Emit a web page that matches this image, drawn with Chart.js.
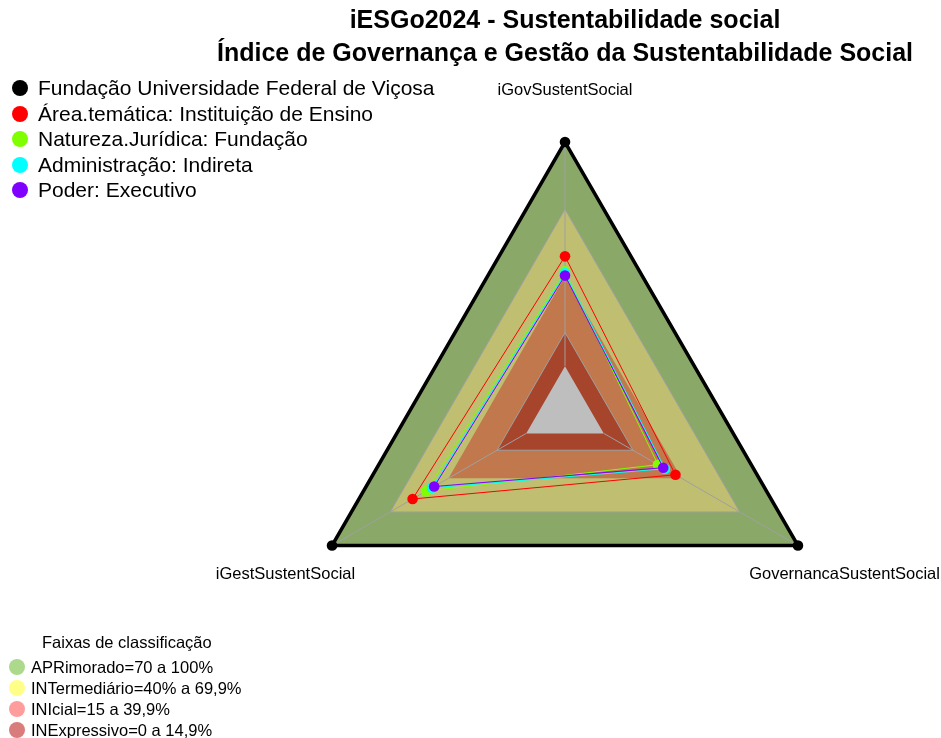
<!DOCTYPE html>
<html>
<head>
<meta charset="utf-8">
<script src="https://cdn.jsdelivr.net/npm/chart.js@4.4.1/dist/chart.umd.min.js"></script>
<style>
  html, body { margin:0; padding:0; background:#fff; }
  body { width:941px; height:738px; position:relative; overflow:hidden; font-family:"Liberation Sans", Arial, sans-serif; }
  #wrap { position:absolute; left:0; top:0; width:941px; height:738px; }
  .title { position:absolute; left:165px; width:800px; text-align:center; font-weight:bold; font-size:25px; color:#000; white-space:nowrap; line-height:28px; }
  .leg { position:absolute; left:12px; font-size:21px; color:#000; white-space:nowrap; line-height:24px; }
  .leg span.dot { display:inline-block; width:16px; height:16px; border-radius:50%; margin-right:10px; vertical-align:-1px; }
  .leg2 { position:absolute; left:9px; font-size:16.5px; color:#000; white-space:nowrap; line-height:19px; }
  .leg2 span.dot { display:inline-block; width:16px; height:16px; border-radius:50%; margin-right:6px; vertical-align:-2px; }
  .frag { position:absolute; left:2px; top:-21px; font-size:22px; color:#aab6de; }
</style>
</head>
<body>
<div class="frag">Social</div>
<div id="wrap"><canvas id="c" width="941" height="738"></canvas></div>
<div class="title" style="top:5px;">iESGo2024 - Sustentabilidade social</div>
<div class="title" style="top:38px;">Índice de Governança e Gestão da Sustentabilidade Social</div>
<div id="legTop"></div>
<div class="leg2" style="left:42px; top:633px;">Faixas de classificação</div>
<div id="legBot"></div>
<script>
// ---- data ----
const axisLabels = ['iGovSustentSocial', 'GovernancaSustentSocial', 'iGestSustentSocial'];
const seriesNames = ['Fundação Universidade Federal de Viçosa', 'Área.temática: Instituição de Ensino', 'Natureza.Jurídica: Fundação', 'Administração: Indireta', 'Poder: Executivo'];
const ufv       = [100, 100, 100];
const areaTem   = [49.0, 36.9, 58.5];
const natureza  = [42.3, 27.9, 51.5];
const adminInd  = [41.5, 31.5, 48.5];
const poderExec = [40.4, 30.6, 47.4];
const bandNames = ['APRimorado=70 a 100%', 'INTermediário=40% a 69,9%', 'INIcial=15 a 39,9%', 'INExpressivo=0 a 14,9%'];
const bandLimits = [100, 70, 40, 15, 0];

const seriesColors = ['#000000', '#ff0000', '#80ff00', '#00ffff', '#8000ff'];
const bandFill = ['#8aa868', '#c0be70', '#c0784c', '#a6442c', '#bebebe'];
const bandBorder = [0, 1, 0, 1, 0];
const bandLegColors = ['#acd98c', '#ffff88', '#ff9c9c', '#d97c7c'];

// legends (HTML text)
const lt = document.getElementById('legTop');
seriesNames.forEach((n, i) => {
  const d = document.createElement('div');
  d.className = 'leg';
  d.style.top = (76 + i * 25.5) + 'px';
  d.innerHTML = '<span class="dot" style="background:' + seriesColors[i] + '"></span>' + n;
  lt.appendChild(d);
});
const lb = document.getElementById('legBot');
bandNames.forEach((n, i) => {
  const d = document.createElement('div');
  d.className = 'leg2';
  d.style.top = (658 + i * 21.1) + 'px';
  d.innerHTML = '<span class="dot" style="background:' + bandLegColors[i] + '"></span>' + n;
  lb.appendChild(d);
});

const seriesData = [ufv, areaTem, natureza, adminInd, poderExec];
const datasets = [];
// bands
bandLimits.forEach((v, i) => {
  datasets.push({
    label: 'band' + i,
    data: axisLabels.map(() => v),
    fill: 'start',
    backgroundColor: bandFill[i],
    borderColor: '#a0a0a0',
    borderWidth: bandBorder[i],
    pointRadius: 0,
    pointHoverRadius: 0,
    order: 20 - i,
    clip: false,
    isBand: true,
    isHole: i === bandLimits.length - 1
  });
});
seriesData.forEach((arr, i) => {
  datasets.push({
    label: seriesNames[i],
    data: arr,
    fill: false,
    borderColor: seriesColors[i],
    backgroundColor: seriesColors[i],
    borderWidth: i === 0 ? 3.5 : 1,
    pointRadius: 5.3,
    pointBorderWidth: 0,
    pointBackgroundColor: seriesColors[i],
    order: 5 - i,
    clip: false
  });
});

const angleLinesPlugin = {
  id: 'angleLinesAfterHole',
  afterDatasetDraw(chart, args) {
    const ds = chart.data.datasets[args.index];
    if (!ds.isHole) return;
    const s = chart.scales.r;
    const ctx = chart.ctx;
    ctx.save();
    ctx.strokeStyle = '#a0a0a0';
    ctx.lineWidth = 1;
    for (let i = 0; i < axisLabels.length; i++) {
      const c = s.getPointPositionForValue(i, 0);
      const p = s.getPointPositionForValue(i, s.max);
      ctx.beginPath();
      ctx.moveTo(c.x, c.y);
      ctx.lineTo(p.x, p.y);
      ctx.stroke();
    }
    ctx.restore();
  }
};
const axisLabelPlugin = {
  id: 'axisLabels',
  afterDraw(chart) {
    const s = chart.scales.r;
    const ctx = chart.ctx;
    ctx.save();
    ctx.fillStyle = '#000';
    ctx.font = '16.5px "Liberation Sans", Arial, sans-serif';
    ctx.textAlign = 'center';
    ctx.textBaseline = 'middle';
    const labelValue = s.max + 0.2 * (s.max - s.min);
    for (let i = 0; i < axisLabels.length; i++) {
      const p = s.getPointPositionForValue(i, labelValue);
      ctx.fillText(axisLabels[i], p.x, p.y + 2);
    }
    ctx.restore();
  }
};

new Chart(document.getElementById('c'), {
  type: 'radar',
  data: { labels: axisLabels, datasets },
  options: {
    responsive: false,
    animation: false,
    events: [],
    layout: { padding: { left: 296, right: 107, top: 142, bottom: 58 } },
    elements: { line: { tension: 0 } },
    plugins: { legend: { display: false }, tooltip: { enabled: false }, title: { display: false } },
    scales: {
      r: {
        min: -20,
        max: 100,
        ticks: { display: false },
        grid: { display: false },
        angleLines: { display: false },
        pointLabels: { display: false }
      }
    }
  },
  plugins: [angleLinesPlugin, axisLabelPlugin]
});
</script>
</body>
</html>
